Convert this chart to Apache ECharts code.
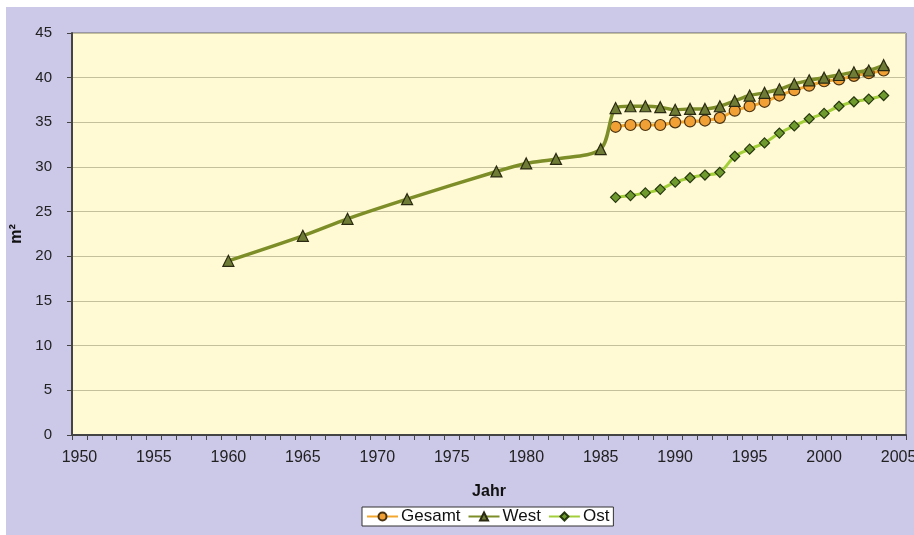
<!DOCTYPE html>
<html>
<head>
<meta charset="utf-8">
<script src="https://cdn.jsdelivr.net/npm/echarts@6/dist/echarts.min.js"></script>
<style>
  html, body { margin: 0; padding: 0; background: #fff; }
  #chart { width: 914px; height: 535px; }
</style>
</head>
<body>
<div id="chart"></div>
<script>
// Wohnfläche pro Kopf (m²), 1950–2005
const years = [];
for (let y = 1950; y <= 2005; y++) years.push(String(y));

const westPoints = {
  1960: 19.5, 1965: 22.3, 1968: 24.2, 1972: 26.4, 1978: 29.5, 1980: 30.4, 1982: 30.9, 1985: 32.0,
  1986: 36.6, 1987: 36.8, 1988: 36.8, 1989: 36.7, 1990: 36.4, 1991: 36.5, 1992: 36.5, 1993: 36.8,
  1994: 37.4, 1995: 38.0, 1996: 38.3, 1997: 38.7, 1998: 39.3, 1999: 39.7, 2000: 40.0, 2001: 40.3,
  2002: 40.6, 2003: 40.8, 2004: 41.4
};
const gesamtPoints = {
  1986: 34.5, 1987: 34.7, 1988: 34.7, 1989: 34.7, 1990: 35.0, 1991: 35.1, 1992: 35.2, 1993: 35.5,
  1994: 36.3, 1995: 36.8, 1996: 37.3, 1997: 38.0, 1998: 38.6, 1999: 39.1, 2000: 39.6, 2001: 39.8,
  2002: 40.2, 2003: 40.5, 2004: 40.8
};
const ostPoints = {
  1986: 26.6, 1987: 26.8, 1988: 27.1, 1989: 27.5, 1990: 28.3, 1991: 28.8, 1992: 29.1, 1993: 29.4,
  1994: 31.2, 1995: 32.0, 1996: 32.7, 1997: 33.8, 1998: 34.6, 1999: 35.4, 2000: 36.0, 2001: 36.8,
  2002: 37.3, 2003: 37.6, 2004: 38.0
};

const toSeries = pts => years.map(y => (pts[y] !== undefined ? pts[y] : null));
const gesamt = toSeries(gesamtPoints);
const west = toSeries(westPoints);
const ost = toSeries(ostPoints);

const font = '"Liberation Sans", Arial, sans-serif';
const chart = echarts.init(document.getElementById('chart'));

chart.setOption({
  backgroundColor: '#ffffff',
  textStyle: { fontFamily: font },
  graphic: [{
    type: 'rect', z: -10,
    shape: { x: 6, y: 7, width: 914, height: 535 },
    style: { fill: '#CCC8E8' }
  }],
  grid: {
    left: 72, right: 8, top: 33, bottom: 100,
    outerBoundsMode: 'none', containLabel: false,
    show: true, backgroundColor: '#FFFAD4', borderColor: '#666', borderWidth: 1
  },
  legend: {
    left: 362, top: 507,
    backgroundColor: '#ffffff', borderColor: '#333', borderWidth: 1,
    padding: [1, 4, 1, 4], itemGap: 7, itemWidth: 31, itemHeight: 10,
    textStyle: { fontFamily: font, fontSize: 17, color: '#111', padding: [0, 0, 0, -2] },
    data: ['Gesamt', 'West', 'Ost']
  },
  xAxis: {
    type: 'category', data: years, boundaryGap: true,
    name: 'Jahr', nameLocation: 'middle', nameGap: 49,
    nameTextStyle: { fontFamily: font, fontSize: 16, fontWeight: 'bold', color: '#111' },
    axisLine: { lineStyle: { color: '#444', width: 2 } },
    axisTick: { show: true, interval: 0, length: 5, lineStyle: { color: '#444' } },
    axisLabel: { interval: 4, margin: 15, fontSize: 16, color: '#222', fontFamily: font, hideOverlap: false },
    splitLine: { show: false }
  },
  yAxis: {
    type: 'value', min: 0, max: 45, interval: 5,
    name: 'm²', nameLocation: 'middle', nameGap: 44, nameRotate: 90,
    nameTextStyle: { fontFamily: font, fontSize: 16, fontWeight: 'bold', color: '#111' },
    axisLine: { show: true, lineStyle: { color: '#444', width: 2 } },
    axisTick: { show: true, length: 5, lineStyle: { color: '#444' } },
    axisLabel: { margin: 20, fontSize: 15, color: '#222', fontFamily: font },
    splitLine: { lineStyle: { color: '#C4C09C', width: 1 } }
  },
  series: [
    {
      name: 'Gesamt', type: 'line', data: gesamt, connectNulls: true, smooth: 0.3,
      showAllSymbol: true, symbol: 'circle', symbolSize: 11,
      lineStyle: { color: '#F2A72E', width: 3 },
      itemStyle: { color: '#F0A035', borderColor: '#4a3312', borderWidth: 1.2 },
      z: 3
    },
    {
      name: 'West', type: 'line', data: west, connectNulls: true, smooth: 0.3,
      showAllSymbol: true, symbol: 'triangle', symbolSize: 11,
      lineStyle: { color: '#7D8E28', width: 3.5 },
      itemStyle: { color: '#6F7C36', borderColor: '#2a2a12', borderWidth: 1.2 },
      z: 4
    },
    {
      name: 'Ost', type: 'line', data: ost, connectNulls: true, smooth: 0.3,
      showAllSymbol: true, symbol: 'diamond', symbolSize: 10,
      lineStyle: { color: '#A3CF3A', width: 3 },
      itemStyle: { color: '#6E9A2E', borderColor: '#26380e', borderWidth: 1.2 },
      z: 2
    }
  ]
});
</script>
</body>
</html>
